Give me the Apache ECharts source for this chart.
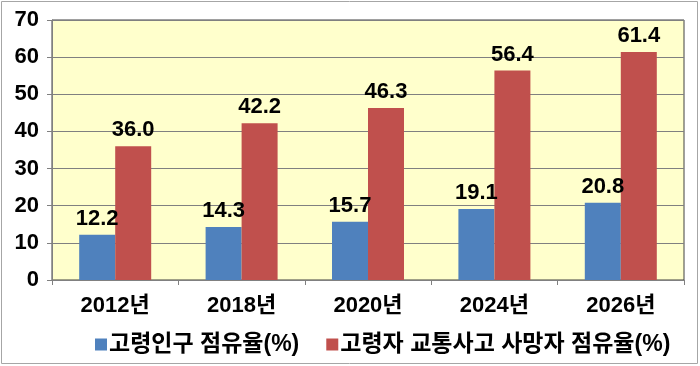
<!DOCTYPE html>
<html><head><meta charset="utf-8">
<script src="https://cdn.jsdelivr.net/npm/echarts@6/dist/echarts.min.js"></script>
<style>html,body{margin:0;padding:0;background:#fff}#c{width:700px;height:366px}</style>
</head><body><div id="c"></div>
<script>
const categories = ['2012년', '2018년', '2020년', '2024년', '2026년'];
const seriesNames = ['고령인구 점유율(%)', '고령자 교통사고 사망자 점유율(%)'];
const elderlyPopulation = [12.2, 14.3, 15.7, 19.1, 20.8];
const elderlyFatalities = [36.0, 42.2, 46.3, 56.4, 61.4];
const yTicks = [0, 10, 20, 30, 40, 50, 60, 70];

const FF = "'Liberation Sans', 'Noto Sans CJK KR', Arial, sans-serif";
const chart = echarts.init(document.getElementById('c'), null, {renderer: 'canvas'});
const labelStyle = {
  show: true, position: 'top', distance: 5,
  formatter: p => p.value.toFixed(1),
  color: '#000', fontWeight: 'bold', fontSize: 22, fontFamily: FF
};
chart.setOption({
  animation: false,
  backgroundColor: '#fff',
  graphic: [{
    type: 'rect', shape: {x: 1.5, y: 1.5, width: 696, height: 362},
    style: {fill: 'none', stroke: '#a6a6a6', lineWidth: 1}, z: -1
  }],
  grid: {left: 52, right: 16, top: 20, bottom: 86, show: true,
    backgroundColor: '#FFFFCC', borderColor: '#404040', borderWidth: 1},
  legend: {
    top: 328, left: 90, itemWidth: 12, itemHeight: 12, itemGap: 27,
    icon: 'rect',
    textStyle: {fontSize: 23, fontWeight: 'bold', color: '#000', fontFamily: FF, padding: [0, 0, 0, -3]},
    data: seriesNames
  },
  xAxis: {
    type: 'category', data: categories,
    axisLine: {lineStyle: {color: '#808080'}},
    axisTick: {show: true, length: 5, lineStyle: {color: '#808080'}},
    axisLabel: {margin: 15, fontSize: 22, fontWeight: 'bold', color: '#000', fontFamily: FF}
  },
  yAxis: {
    type: 'value', min: yTicks[0], max: yTicks[yTicks.length - 1], interval: 10,
    axisLine: {show: true, lineStyle: {color: '#808080'}},
    axisTick: {show: true, length: 5, lineStyle: {color: '#808080'}},
    splitLine: {lineStyle: {color: '#808080'}},
    axisLabel: {margin: 13, fontSize: 22, fontWeight: 'bold', color: '#000', fontFamily: FF}
  },
  series: [
    {name: seriesNames[0], type: 'bar', data: elderlyPopulation, barWidth: 36, barGap: '0%',
      itemStyle: {color: '#4F81BD'}, label: labelStyle},
    {name: seriesNames[1], type: 'bar', data: elderlyFatalities, barWidth: 36, barGap: '0%',
      itemStyle: {color: '#C0504D'}, label: labelStyle}
  ]
});
</script></body></html>
